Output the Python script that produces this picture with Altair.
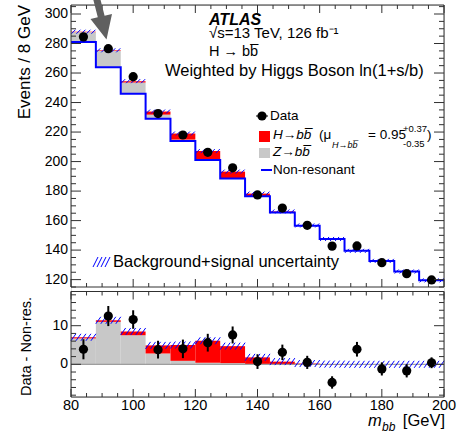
import altair as alt
import pandas as pd

FONT = "Liberation Sans"

# ---------------- data ----------------
bin_lo = [80, 88, 96, 104, 112, 120, 128, 136, 144, 152, 160, 168, 176, 184, 192]
bin_hi = [88, 96, 104, 112, 120, 128, 136, 144, 152, 160, 168, 176, 184, 192, 200]
bin_center = [84, 92, 100, 108, 116, 124, 132, 140, 148, 156, 164, 172, 180, 188, 196]
nonres = [281.0, 264.0, 246.0, 229.0, 214.0, 201.0, 188.5, 176.5, 165.5, 156.5, 147.5, 139.5, 132.7, 125.5, 119.5]
z_bb = [6.7, 11.0, 7.5, 2.8, 0.9, 0.4, 0.3, 0.1, 0.0, 0.0, 0.0, 0.0, 0.0, 0.0, 0.0]
h_bb = [0.3, 0.4, 1.0, 2.1, 4.1, 5.7, 4.4, 1.7, 0.7, 0.2, 0.05, 0.0, 0.0, 0.0, 0.0]
data_events = [284.5, 276.5, 257.5, 232.5, 218.0, 206.3, 195.8, 177.4, 168.5, 156.8, 142.7, 142.8, 131.5, 124.0, 119.8]
data_diff = [3.9, 12.5, 11.6, 3.8, 4.0, 5.6, 7.6, 0.7, 3.1, 0.5, -4.7, 3.9, -1.2, -1.7, 0.4]
data_err = [2.6, 2.6, 2.4, 2.3, 2.4, 2.3, 2.2, 1.9, 2.0, 1.7, 1.6, 1.9, 1.7, 1.7, 1.4]

y_top_major = [120, 140, 160, 180, 200, 220, 240, 260, 280, 300]
y_top_minor = [v for v in range(115, 306, 5) if v % 20 != 0]
y_bot_major = [0, 10]
y_bot_minor = [v for v in range(-8, 19, 2) if v % 10 != 0]
x_major = [80, 100, 120, 140, 160, 180, 200]
x_minor = [v for v in range(80, 201, 5) if v % 20 != 0]

# ---------------- geometry ----------------
W = 373
TOP_H = 282
BOT_Y0 = 286.5
BOT_Y1 = 392

XS = alt.Scale(domain=[80, 200], nice=False, zero=False)
TOP = alt.Scale(domain=[115, 306.1], range=[TOP_H, 0], nice=False, zero=False)
BOT = alt.Scale(domain=[-8.47, 18.86], range=[BOT_Y1, BOT_Y0], nice=False, zero=False)

GRAY = "#c8c8c8"
RED = "#ff0000"
BLUE = "#0000ff"
FRAME = "#303030"

bins = pd.DataFrame({
    "lo": bin_lo, "hi": bin_hi, "c": bin_center,
    "nonres": nonres, "z": z_bb, "h": h_bb,
    "data": data_events, "diff": data_diff, "err": data_err,
})
bins["zero"] = 0.0
bins["nz"] = bins["nonres"] + bins["z"]
bins["tot"] = bins["nz"] + bins["h"]
bins["sig"] = bins["z"] + bins["h"]
bins["dlo"] = bins["data"] - bins["err"]
bins["dhi"] = bins["data"] + bins["err"]
bins["rlo"] = bins["diff"] - bins["err"]
bins["rhi"] = bins["diff"] + bins["err"]

step = pd.DataFrame({"x": bin_lo + [bin_hi[-1]], "y": nonres + [nonres[-1]]})


def X(f):
    return alt.X(f, type="quantitative", scale=XS, axis=None)


def YT(f):
    return alt.Y(f, type="quantitative", scale=TOP, axis=None)


def YB(f):
    return alt.Y(f, type="quantitative", scale=BOT, axis=None)


base = alt.Chart(bins)
dummy = pd.DataFrame({"a": [0]})
top_layers = []
bot_layers = []

# ---------- top panel ----------
top_layers.append(base.mark_rect(color=GRAY).encode(x=X("lo"), x2=alt.X2("hi"), y=YT("nonres"), y2=alt.Y2("nz")))
top_layers.append(base.mark_rect(color=RED).encode(x=X("lo"), x2=alt.X2("hi"), y=YT("nz"), y2=alt.Y2("tot")))
top_hatch = " ".join(f"M {x} 2 L {x+4} -2" for x in [-12, -7, -2, 3, 8])
top_layers.append(base.mark_point(shape=top_hatch, size=4, filled=False, color=BLUE, strokeWidth=1, opacity=1)
                  .encode(x=X("c"), y=YT("tot")))
top_layers.append(alt.Chart(step).mark_line(interpolate="step-after", color=BLUE, strokeWidth=2)
                  .encode(x=X("x"), y=YT("y")))
top_layers.append(base.mark_rule(color="black", strokeWidth=2).encode(x=X("c"), y=YT("dlo"), y2=alt.Y2("dhi")))
top_layers.append(base.mark_circle(size=85, color="black", opacity=1).encode(x=X("c"), y=YT("data")))

# ---------- bottom panel ----------
bot_layers.append(base.mark_rect(color=GRAY).encode(x=X("lo"), x2=alt.X2("hi"), y=YB("zero"), y2=alt.Y2("z")))
bot_layers.append(base.mark_rect(color=RED).encode(x=X("lo"), x2=alt.X2("hi"), y=YB("z"), y2=alt.Y2("sig")))
bot_layers.append(alt.Chart(pd.DataFrame({"v": [0]})).mark_rule(color="#8a8a8a", strokeWidth=1)
                  .encode(x=alt.value(0), x2=alt.value(W), y=YB("v")))
bot_hatch = " ".join(f"M {x} 3.5 L {x+5} -3.5" for x in [-12.5, -7.5, -2.5, 2.5, 7.5])
bot_layers.append(base.mark_point(shape=bot_hatch, size=4, filled=False, color=BLUE, strokeWidth=1, opacity=1)
                  .encode(x=X("c"), y=YB("sig")))
bot_layers.append(base.mark_rule(color="black", strokeWidth=2).encode(x=X("c"), y=YB("rlo"), y2=alt.Y2("rhi")))
bot_layers.append(base.mark_circle(size=85, color="black", opacity=1).encode(x=X("c"), y=YB("diff")))


# ---------- frames ----------
def frame(y0, y1):
    return alt.Chart(dummy).mark_rect(fill="transparent", stroke=FRAME, strokeWidth=1).encode(
        x=alt.value(0), x2=alt.value(W), y=alt.value(y0), y2=alt.value(y1))


top_layers.append(frame(0, TOP_H))
bot_layers.append(frame(BOT_Y0, BOT_Y1))


# ---------- ticks ----------
def xticks(vals, y_edge, length, direction):
    return alt.Chart(pd.DataFrame({"v": vals})).mark_rule(color=FRAME, strokeWidth=1).encode(
        x=X("v"), y=alt.value(y_edge), y2=alt.value(y_edge + direction * length))


for vals, ln in [(x_major, 8), (x_minor, 4)]:
    top_layers.append(xticks(vals, TOP_H, ln, -1))
    top_layers.append(xticks(vals, 0, ln, 1))
    bot_layers.append(xticks(vals, BOT_Y1, ln, -1))
    bot_layers.append(xticks(vals, BOT_Y0, ln, 1))


def yticks(vals, yenc, length):
    df = pd.DataFrame({"v": vals})
    return [
        alt.Chart(df).mark_rule(color=FRAME, strokeWidth=1).encode(x=alt.value(0), x2=alt.value(length), y=yenc("v")),
        alt.Chart(df).mark_rule(color=FRAME, strokeWidth=1).encode(x=alt.value(W), x2=alt.value(W - length), y=yenc("v")),
    ]


top_layers += yticks(y_top_major, YT, 10)
top_layers += yticks(y_top_minor, YT, 5)
bot_layers += yticks(y_bot_major, YB, 10)
bot_layers += yticks(y_bot_minor, YB, 5)

# ---------- tick labels ----------
top_layers.append(alt.Chart(pd.DataFrame({"v": y_top_major, "t": [str(v) for v in y_top_major]}))
                  .mark_text(align="right", baseline="middle", fontSize=14, font=FONT, color="black")
                  .encode(x=alt.value(-3), y=YT("v"), text="t:N"))
bot_layers.append(alt.Chart(pd.DataFrame({"v": y_bot_major, "t": [str(v) for v in y_bot_major]}))
                  .mark_text(align="right", baseline="middle", fontSize=14, font=FONT, color="black")
                  .encode(x=alt.value(-3), y=YB("v"), text="t:N"))
top_layers.append(alt.Chart(pd.DataFrame({"v": x_major, "t": [str(v) for v in x_major]}))
                  .mark_text(align="center", baseline="middle", fontSize=14.5, font=FONT, color="black")
                  .encode(x=X("v"), y=alt.value(400.5), text="t:N"))


# ---------- texts ----------
def txt(text, x, y, size, align="left", baseline="alphabetic", style="normal", weight="normal", angle=0, color="black"):
    return alt.Chart(dummy).mark_text(text=text, align=align, baseline=baseline, fontSize=size, font=FONT,
                                      fontStyle=style, fontWeight=weight, angle=angle, color=color).encode(
        x=alt.value(x), y=alt.value(y))


BBAR = "bb\u0305"

top_layers.append(txt("Events / 8 GeV", -46, 0, 17, align="right", baseline="middle", angle=270))
top_layers.append(txt("Data - Non-res.", -44.5, 341.5, 14.5, align="center", baseline="middle", angle=270))

top_layers.append(txt("ATLAS", 138, 19.5, 16, style="italic", weight="bold"))
top_layers.append(txt("\u221as=13 TeV, 126 fb\u207b\u00b9", 138, 33, 15))
top_layers.append(txt("H \u2192 " + BBAR, 138, 50.5, 14.5))
top_layers.append(txt("Weighted by Higgs Boson ln(1+s/b)", 94, 70.5, 16.5))

# legend
top_layers.append(alt.Chart(dummy).mark_circle(size=85, color="black", opacity=1).encode(x=alt.value(191), y=alt.value(111)))
top_layers.append(alt.Chart(dummy).mark_rule(color="black", strokeWidth=1).encode(x=alt.value(185), x2=alt.value(197), y=alt.value(111)))
top_layers.append(txt("Data", 199, 111, 13.5, baseline="middle"))
top_layers.append(alt.Chart(dummy).mark_rect(color=RED).encode(x=alt.value(188), x2=alt.value(199), y=alt.value(126), y2=alt.value(137)))
top_layers.append(txt("H\u2192" + BBAR, 202, 134, 13.5, style="italic"))
top_layers.append(txt("(\u03bc", 248, 134, 13.5))
top_layers.append(txt("H\u2192" + BBAR, 261, 143, 9, style="italic"))
top_layers.append(txt("= 0.95", 297, 134, 13.5))
top_layers.append(txt("+0.37", 332, 127, 9.5))
top_layers.append(txt("-0.35", 332, 142, 9.5))
top_layers.append(txt(")", 356, 134, 13.5))
top_layers.append(alt.Chart(dummy).mark_rect(color=GRAY).encode(x=alt.value(188), x2=alt.value(199), y=alt.value(143), y2=alt.value(153)))
top_layers.append(txt("Z\u2192" + BBAR, 202, 151, 13.5, style="italic"))
top_layers.append(alt.Chart(dummy).mark_rule(color=BLUE, strokeWidth=2).encode(x=alt.value(190), x2=alt.value(201), y=alt.value(165)))
top_layers.append(txt("Non-resonant", 202, 169, 13.5))

legend_hatch = " ".join(f"M {x} 5 L {x+5} -5" for x in [-8.5, -4.5, -0.5, 3.5])
top_layers.append(alt.Chart(dummy).mark_point(shape=legend_hatch, size=4, filled=False, color=BLUE, strokeWidth=1, opacity=1)
                  .encode(x=alt.value(30.5), y=alt.value(257)))
top_layers.append(txt("Background+signal uncertainty", 42, 262, 16.5))

# x title
top_layers.append(txt("[GeV]", 374, 421, 16.5, align="right"))
top_layers.append(txt("m", 297, 421, 16.5, style="italic"))
top_layers.append(txt("bb", 311, 425.5, 12, style="italic"))

# arrow
arrow = "M 5.5 19.5 L 11 -6 L 3.6 -4.3 L -2.6 -28.5 L -9.4 -26.9 L -3.2 -2.7 L -10.5 -1 Z"
top_layers.append(alt.Chart(dummy).mark_point(shape=arrow, size=4, filled=True, color="#606060", strokeWidth=0, opacity=1)
                  .encode(x=alt.value(30), y=alt.value(15)))

top_group = alt.layer(*top_layers)
bot_group = alt.layer(*bot_layers)

chart = alt.layer(top_group, bot_group).resolve_scale(y="independent").properties(
    width=W, height=BOT_Y1,
    padding={"left": 71, "top": 5, "right": 22, "bottom": 36},
    autosize=alt.AutoSizeParams(type="none"),
).configure_view(stroke=None).configure(background="white")

chart.save("out.html", embed_options={"renderer": "svg", "actions": False})
